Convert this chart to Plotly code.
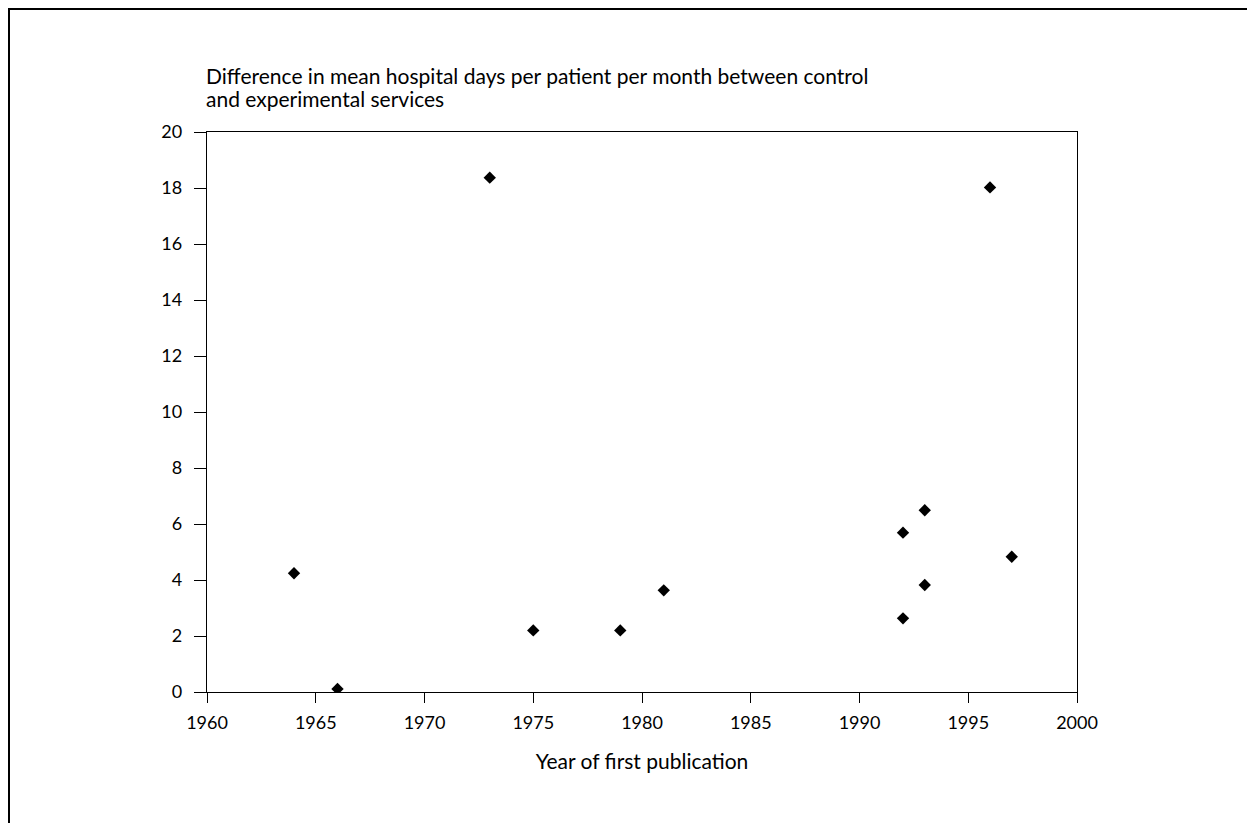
import plotly.graph_objects as go

years = [1964, 1966, 1973, 1975, 1979, 1981, 1992, 1992, 1993, 1993, 1996, 1997]
diff_days = [4.24, 0.11, 18.37, 2.2, 2.2, 3.63, 5.69, 2.63, 6.49, 3.82, 18.02, 4.83]

x_ticks = [1960, 1965, 1970, 1975, 1980, 1985, 1990, 1995, 2000]
y_ticks = [0, 2, 4, 6, 8, 10, 12, 14, 16, 18, 20]

y_title_lines = [
    "Difference in mean hospital days per patient per month between control",
    "and experimental services",
]
x_title = "Year of first publication"

FONT = "Lato, 'Open Sans', sans-serif"
W, H = 1255, 823
ML, MR, MT, MB = 199, 186, 124, 139
PW, PH = W - ML - MR, H - MT - MB

fig = go.Figure()
fig.add_trace(go.Scatter(
    x=years, y=diff_days, mode="markers",
    marker=dict(symbol="diamond", size=9.5, color="black", line=dict(width=0)),
    showlegend=False, hoverinfo="x+y",
))

annotations = []
for i, line in enumerate(y_title_lines):
    annotations.append(dict(
        text=line, xref="paper", yref="paper", x=0, y=1,
        xanchor="left", yanchor="middle", align="left", showarrow=False,
        font=dict(size=21), xshift=-3, yshift=57 - 23 * i,
    ))

fig.update_layout(
    width=W, height=H,
    margin=dict(l=ML, r=MR, t=MT, b=MB),
    paper_bgcolor="white", plot_bgcolor="white",
    font=dict(family=FONT, size=18, color="black"),
    xaxis=dict(
        range=[1960, 2000], tickvals=x_ticks, ticktext=[str(v) for v in x_ticks],
        showgrid=False, zeroline=False, showline=True, linecolor="black", linewidth=1.3,
        mirror=True, ticks="outside", ticklen=10, tickwidth=1.3, tickcolor="black",
        ticklabelstandoff=4,
        title=dict(text=x_title, standoff=22, font=dict(size=21)),
    ),
    yaxis=dict(
        range=[0, 20], tickvals=y_ticks, ticktext=[str(v) for v in y_ticks],
        showgrid=False, zeroline=False, showline=True, linecolor="black", linewidth=1.3,
        mirror=True, ticks="outside", ticklen=12, tickwidth=1.3, tickcolor="black",
        ticklabelstandoff=8,
    ),
    annotations=annotations,
    shapes=[dict(
        type="rect", xref="paper", yref="paper",
        x0=(1 - ML) / PW, x1=(1246 - ML) / PW,
        y0=-(MB + 20) / PH, y1=1 + (MT - 1) / PH,
        line=dict(color="black", width=2), fillcolor="rgba(0,0,0,0)", layer="below",
    )],
)

fig.write_html("out.html")
